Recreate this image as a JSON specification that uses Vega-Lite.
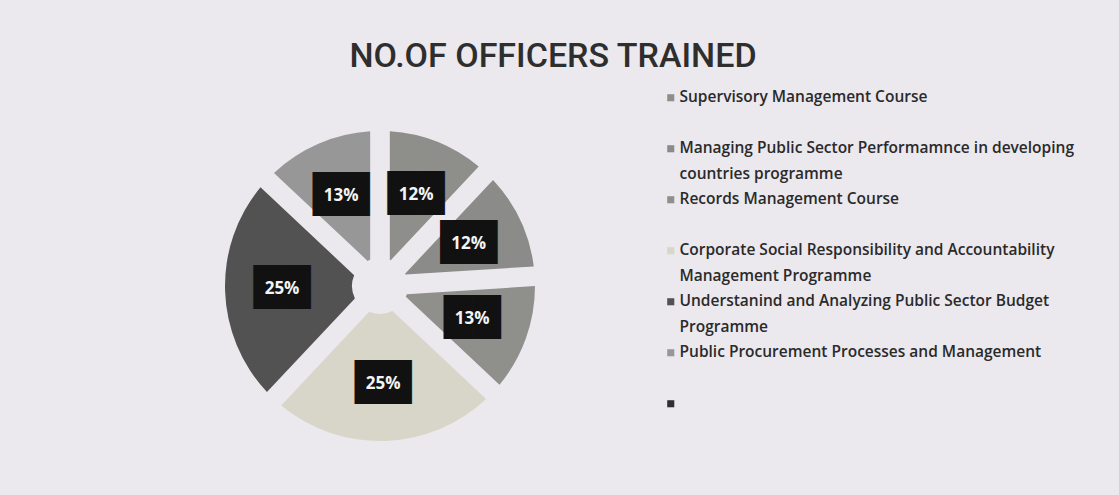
{
  "$schema": "https://vega.github.io/schema/vega-lite/v6.json",
  "width": 760,
  "height": 388,
  "autosize": {"type": "none"},
  "padding": {"top": 92, "left": 0, "right": 359, "bottom": 15},
  "background": "#ebe8ee",
  "title": {
    "text": "NO.OF OFFICERS TRAINED",
    "font": "Roboto",
    "fontSize": 34,
    "fontWeight": 500,
    "color": "#2e2e2e",
    "anchor": "middle",
    "dx": 173,
    "offset": 16
  },
  "data": {
    "values": [
      {"course": "Supervisory Management Course", "share": 0.12, "idx": 1},
      {"course": "Managing Public Sector Performamnce in developing countries programme", "share": 0.12, "idx": 2},
      {"course": "Records Management  Course", "share": 0.13, "idx": 3},
      {"course": "Corporate Social Responsibility and Accountability Management Programme", "share": 0.25, "idx": 4},
      {"course": "Understanind and Analyzing Public Sector Budget Programme", "share": 0.25, "idx": 5},
      {"course": "Public Procurement Processes and Management", "share": 0.13, "idx": 6}
    ]
  },
  "encoding": {
    "theta": {"field": "share", "type": "quantitative", "stack": true},
    "order": {"field": "idx", "type": "quantitative"}
  },
  "layer": [
    {
      "mark": {"type": "arc", "outerRadius": 155, "innerRadius": 28, "padAngle": 0.125},
      "encoding": {
        "color": {
          "field": "course",
          "type": "nominal",
          "sort": null,
          "scale": {
            "domain": [
              "Supervisory Management Course",
              "Managing Public Sector Performamnce in developing countries programme",
              "Records Management  Course",
              "Corporate Social Responsibility and Accountability Management Programme",
              "Understanind and Analyzing Public Sector Budget Programme",
              "Public Procurement Processes and Management",
              " "
            ],
            "range": ["#8e8e8b", "#8b8b89", "#8f8f8c", "#d7d6c8", "#525252", "#979797", "#2f2f2f"]
          },
          "legend": {
            "title": null,
            "orient": "none",
            "legendX": 663,
            "legendY": -2,
            "symbolType": "square",
            "symbolSize": 50,
            "symbolStrokeWidth": 0,
            "labelFont": "Open Sans",
            "labelFontSize": 15.5,
            "labelFontWeight": 600,
            "labelColor": "#2a2a2a",
            "labelLimit": 600,
            "labelOffset": 1,
            "labelBaseline": "top",
            "rowPadding": 8,
            "labelExpr": "datum.label == 'Managing Public Sector Performamnce in developing countries programme' ? ['Managing Public Sector Performamnce in developing', 'countries programme'] : datum.label == 'Corporate Social Responsibility and Accountability Management Programme' ? ['Corporate Social Responsibility and Accountability', 'Management Programme'] : datum.label == 'Understanind and Analyzing Public Sector Budget Programme' ? ['Understanind and Analyzing Public Sector Budget', 'Programme'] : [datum.label, '']",
            "encode": {"labels": {"update": {"lineHeight": {"value": 26}, "dy": {"value": -8}}}}
          }
        }
      }
    },
    {
      "mark": {"type": "text", "radius": 98, "font": "DejaVu Sans", "fontSize": 37, "color": "#111111", "baseline": "middle"},
      "encoding": {"text": {"value": "██"}}
    },
    {
      "mark": {"type": "text", "radius": 98, "font": "Open Sans", "fontSize": 17, "fontWeight": "bold", "color": "#f4f4f4", "baseline": "middle"},
      "encoding": {"text": {"field": "share", "type": "quantitative", "format": ".0%"}}
    }
  ],
  "config": {"view": {"stroke": null}}
}
